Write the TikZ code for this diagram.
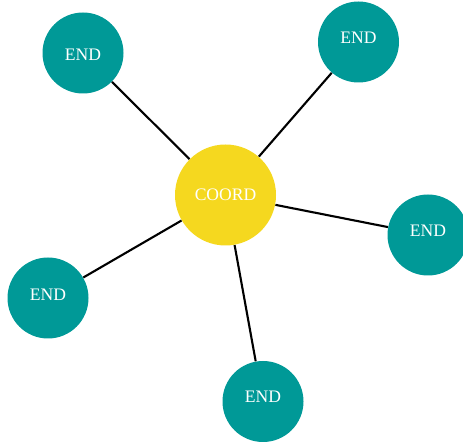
\documentclass[tikz,border=0pt]{standalone}
\usepackage{fontspec}
\setmainfont{Liberation Serif}
\definecolor{endteal}{RGB}{0,153,151}
\definecolor{coordyellow}{RGB}{245,216,31}

\begin{document}
\begin{tikzpicture}[x=0.02cm, y=-0.02cm,
    endnode/.style={circle, fill=endteal, minimum size=81*0.02cm, inner sep=0pt},
    endtext/.style={text=white, inner sep=0pt, font=\fontsize{10}{12}\selectfont},
    coordnode/.style={circle, fill=coordyellow, text=white, minimum size=101*0.02cm, inner sep=0pt, font=\fontsize{10}{12}\selectfont}]

   \useasboundingbox (0,0) rectangle (463,445);

   \node [coordnode] (vcoord) at (225.5,195) {COORD};

   \foreach \x/\y/\d/\t in {83/53/-2/tl, 358.5/42/4/tr, 428/235/4/r, 48/298/3/bl, 263/401.5/4.5/b}
     \node [endnode, label={[endtext, yshift=\d*0.02cm]center:END}] (v\t) at (\x,\y) {};

   \foreach \t in {tl, tr, r, bl, b}
       \draw [line width=1.2pt] (vcoord) -- (v\t);

\end{tikzpicture}
\end{document}
